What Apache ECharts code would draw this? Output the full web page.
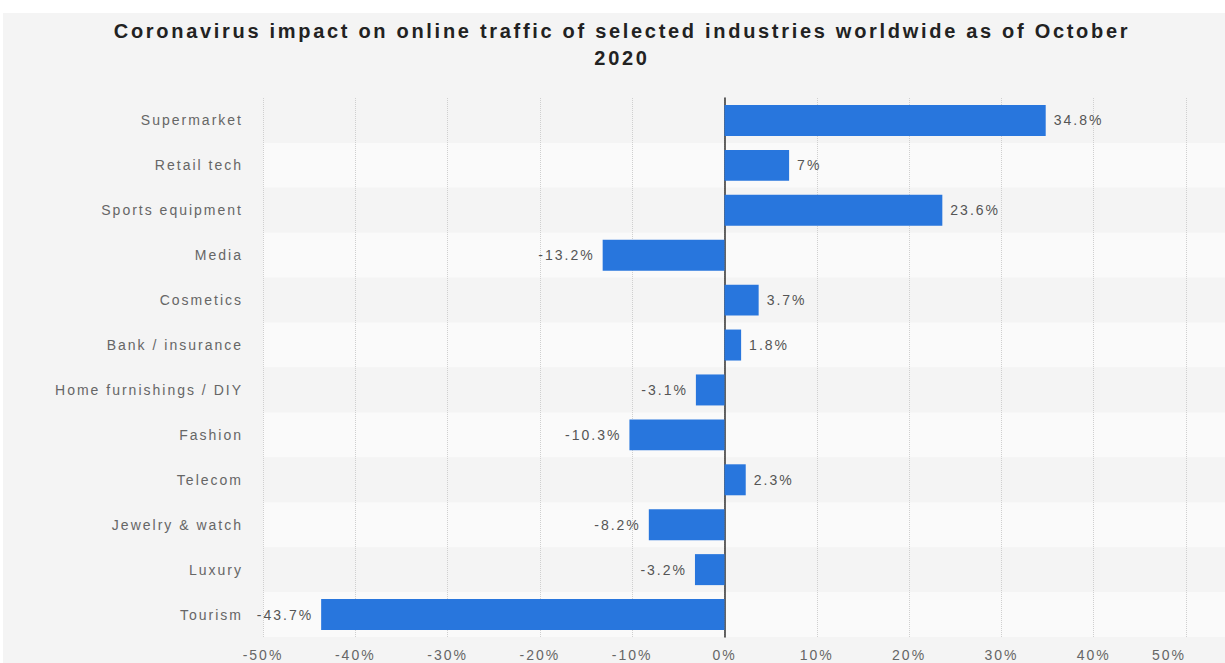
<!DOCTYPE html>
<html>
<head>
<meta charset="utf-8">
<script src="https://cdn.jsdelivr.net/npm/echarts@6/dist/echarts.min.js"></script>
<style>
  html, body { margin: 0; padding: 0; background: #fff; }
  #chart { position: absolute; left: 3px; top: 13px; width: 1222px; height: 650px; background: #f4f4f4; }
  #chart text { letter-spacing: 2px; }
  #chart text[style*="bold"] { letter-spacing: 2.7px; }
</style>
</head>
<body>
<div id="chart"></div>
<script>
// 行业分类与流量变化(%)
const categories = ['Supermarket', 'Retail tech', 'Sports equipment', 'Media', 'Cosmetics', 'Bank / insurance',
    'Home furnishings / DIY', 'Fashion', 'Telecom', 'Jewelry & watch', 'Luxury', 'Tourism'];
const values = [34.8, 7, 23.6, -13.2, 3.7, 1.8, -3.1, -10.3, 2.3, -8.2, -3.2, -43.7];
const axisMin = -50;
const axisMax = 50;
const axisStep = 10;

const myChart = echarts.init(document.getElementById('chart'), null, { renderer: 'svg' });

const barData = values.map((v) => ({
    value: v,
    label: { position: v < 0 ? 'left' : 'right' }
}));

const grids = { top: 85, bottom: 26 };

myChart.setOption({
    animation: false,
    title: {
        text: 'Coronavirus impact on online traffic of selected industries worldwide as of October\n2020',
        left: 619,
        top: 4,
        padding: 0,
        textAlign: 'center',
        textStyle: {
            fontFamily: 'Liberation Sans',
            fontWeight: 'bold',
            fontSize: 20,
            lineHeight: 27,
            color: '#222'
        }
    },
    grid: [
        { left: 260, right: 39, top: grids.top, bottom: grids.bottom },
        // 行背景条, 延伸到右边缘
        { left: 260, right: 0, top: grids.top, bottom: grids.bottom }
    ],
    xAxis: [
        {
            type: 'value',
            min: axisMin,
            max: axisMax,
            interval: axisStep,
            z: 3,
            axisLine: { show: false },
            axisTick: { show: false },
            axisLabel: {
                formatter: '{value}%',
                color: '#666',
                fontFamily: 'Liberation Sans',
                fontSize: 14,
                margin: 11,
                alignMaxLabel: 'right'
            },
            splitLine: {
                show: true,
                lineStyle: { color: '#cfcfcf', type: 'dotted', width: 1 }
            }
        },
        { type: 'value', gridIndex: 1, show: false, min: 0, max: 1 }
    ],
    yAxis: [
        {
            type: 'category',
            data: categories,
            inverse: true,
            z: 4,
            axisTick: { show: false },
            axisLine: { show: true, lineStyle: { color: '#333', width: 1.5 } },
            axisLabel: {
                color: '#666',
                fontFamily: 'Liberation Sans',
                fontSize: 14,
                margin: 20
            },
            splitLine: { show: false }
        },
        {
            type: 'category',
            gridIndex: 1,
            data: categories,
            inverse: true,
            z: 0,
            axisLine: { show: false },
            axisTick: { show: false },
            axisLabel: { show: false },
            splitArea: { show: true, areaStyle: { color: ['#f4f4f4', '#fafafa'] } }
        }
    ],
    series: [
        {
            type: 'bar',
            data: barData,
            barCategoryGap: '31%',
            z: 5,
            itemStyle: { color: '#2876dd' },
            label: {
                show: true,
                formatter: '{c}%',
                color: '#555',
                fontFamily: 'Liberation Sans',
                fontSize: 14,
                distance: 8
            }
        }
    ]
});
</script>
</body>
</html>
